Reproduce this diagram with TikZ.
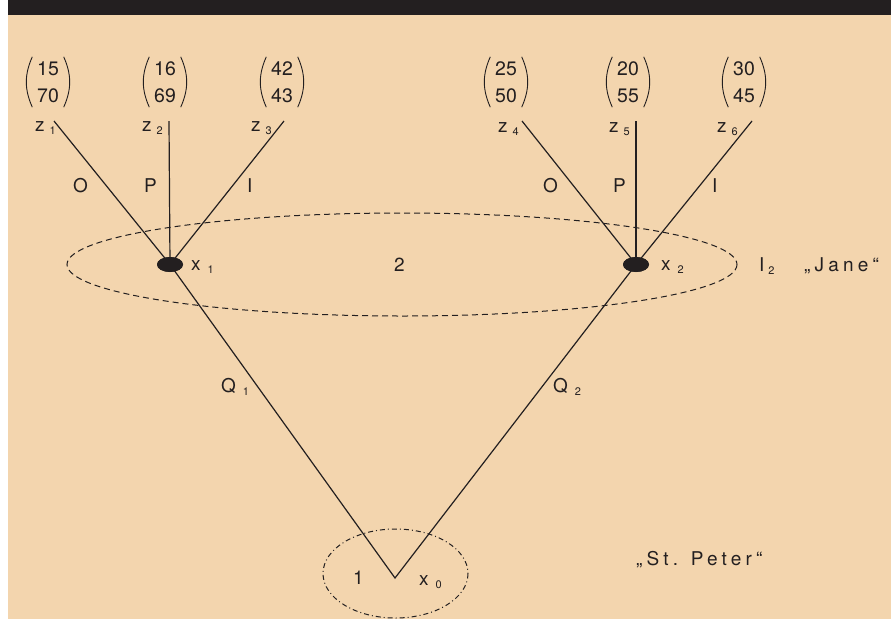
\documentclass[tikz,border=0pt]{standalone}
\usepackage{fontspec}
\setmainfont{TeX Gyre Heros}
\newfontfamily\spacedfont[LetterSpace=22]{TeX Gyre Heros}
\definecolor{bg}{HTML}{F3D5AE}
\definecolor{ink}{HTML}{231F20}
\newcommand\withsub[3][5pt]{#2\hspace{#1}\raisebox{-3pt}{\fontsize{11}{11}\selectfont #3}}
\tikzset{
  lab/.style={anchor=base west,inner sep=0pt,text=ink,font=\fontsize{19}{19}\selectfont},
  vecbox/.style={inner sep=0pt,minimum width=31pt,minimum height=50pt,text=ink,
    align=center,font=\fontsize{19.5}{27.5}\selectfont},
  paren/.style={draw=ink,line width=0.9pt},
  edge/.style={draw=ink,line width=1.2pt},
  dot/.style={ellipse,fill=ink,minimum width=26pt,minimum height=15pt,inner sep=0pt},
  bigell/.style={draw=ink,line width=1pt,dash pattern=on 6pt off 4pt},
  smallell/.style={draw=ink,line width=1pt,dash pattern=on 5pt off 3pt on 1pt off 3pt}
}
\usetikzlibrary{shapes.geometric}
\begin{document}
\begin{tikzpicture}[x=1pt,y=-1pt]
\useasboundingbox (0,0) rectangle (891,619);
\fill[white] (0,0) rectangle (891,619);
\fill[bg] (8,0) rectangle (891,619);
\fill[ink] (8,0) rectangle (891,15);
% vectors
\foreach \n/\x/\a/\b in {v1/48/15/70,v2/165/16/69,v3/282/42/43,v4/506/25/50,v5/628/20/55,v6/744/30/45}{
  \node[vecbox] (\n) at (\x,82) {\a\\\b};
  \draw[paren] (\n.north west) to[bend right=24] (\n.south west);
  \draw[paren] (\n.north east) to[bend left=24] (\n.south east);
}
% line tops
\coordinate (t1) at (54,121);
\coordinate (t2) at (169,121);
\coordinate (t3) at (284,121);
\coordinate (t4) at (522,121);
\coordinate (t5) at (636,121);
\coordinate (t6) at (752,121);
\coordinate (x0) at (395,578);
% ellipses
\draw[bigell] (402,264.5) ellipse[x radius=335, y radius=51.5];
\draw[smallell] (395.5,573.5) ellipse[x radius=72.5, y radius=44.5];
% dots
\node[dot] (x1) at (170,264.5) {};
\node[dot] (x2) at (636,264.5) {};
% edges
\draw[edge] (t1) -- (x1.center);
\draw[edge] (t2) -- (x1.center);
\draw[edge] (t3) -- (x1.center);
\draw[edge] (t4) -- (x2.center);
\draw[edge] (t5) -- (x2.center);
\draw[edge] (t6) -- (x2.center);
\draw[edge,line join=miter] (x1.center) -- (x0) -- (x2.center);
\node[dot] at (x1) {};
\node[dot] at (x2) {};
% z labels
\node[lab] (z1) at (35,131) {\withsub{z}{1}};
\node[lab] (z2) at (142,131) {\withsub{z}{2}};
\node[lab] (z3) at (251,131) {\withsub{z}{3}};
\node[lab] (z4) at (498,132) {\withsub{z}{4}};
\node[lab] (z5) at (609,132) {\withsub{z}{5}};
\node[lab] (z6) at (717,132) {\withsub{z}{6}};
% O P I
\node[lab] (o1) at (73,192) {O};
\node[lab] (p1) at (144,192) {P};
\node[lab] (i1) at (247,192) {I};
\node[lab] (o2) at (543,192) {O};
\node[lab] (p2) at (613,192) {P};
\node[lab] (i2) at (712,192) {I};
% x labels
\node[lab] (lx1) at (191,270) {\withsub[7pt]{x}{1}};
\node[lab] (lx2) at (661,270) {\withsub[7pt]{x}{2}};
\node[lab] (two) at (394,271) {2};
\node[lab] (lI2) at (759,271) {\withsub[4pt]{I}{2}};
\node[lab] (jane) at (804,271) {\spacedfont „Jane“};
% Q labels
\node[lab] (q1) at (221,392) {\withsub[7pt]{Q}{1}};
\node[lab] (q2) at (553,392) {\withsub[7pt]{Q}{2}};
% bottom
\node[lab] (one) at (353,584) {1};
\node[lab] (lx0) at (419,585) {\withsub[7pt]{x}{0}};
\node[lab] (peter) at (636,565) {\spacedfont „St. Peter“};
\end{tikzpicture}
\end{document}
